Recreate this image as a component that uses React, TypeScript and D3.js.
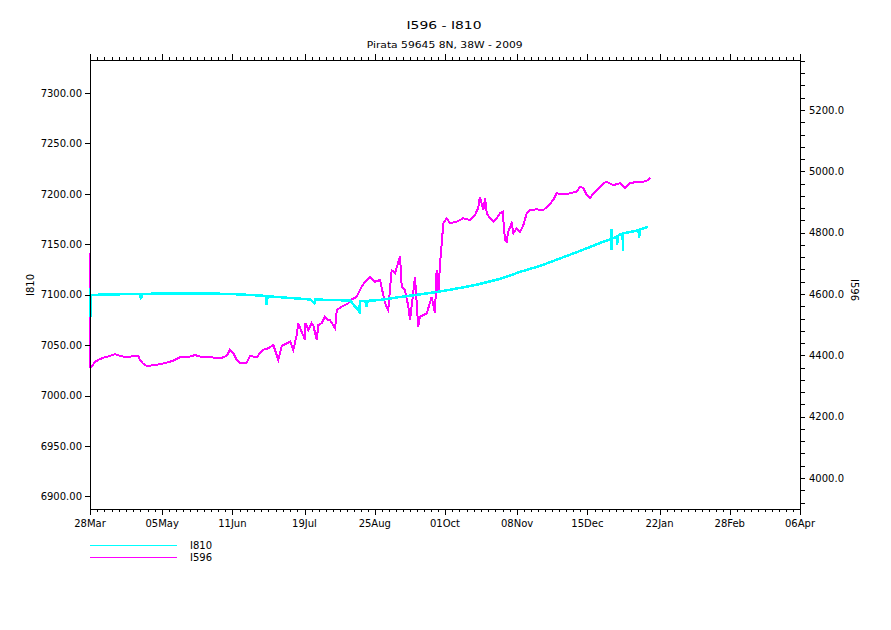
import React from 'react';
import * as d3 from 'd3';

// ---- axis definitions ----
const startDate = '2009-03-28';
const endDate = '2010-04-06';
const xTickDates = ['2009-03-28','2009-05-05','2009-06-11','2009-07-19','2009-08-25','2009-10-01','2009-11-08','2009-12-15','2010-01-22','2010-02-28','2010-04-06'];
const xTickLabels = ['28Mar','05May','11Jun','19Jul','25Aug','01Oct','08Nov','15Dec','22Jan','28Feb','06Apr'];
const leftDomain = [6887.6, 7332.7];
const leftTicks = [6900, 6950, 7000, 7050, 7100, 7150, 7200, 7250, 7300];
const rightDomain = [3899, 5363];
const rightTicks = [4000, 4200, 4400, 4600, 4800, 5000, 5200];
const rightMinorStep = 40;

const title = 'I596 - I810';
const subtitle = 'Pirata 59645 8N, 38W - 2009';
const leftLabel = 'I810';
const rightLabel = 'I596';
const legendNames = ['I810', 'I596'];
const seriesColors = ['#00ffff', '#ff00ff'];

// ---- series: [days since 28Mar2009, value] ----
const i810Series: [number, number][] = [
  [0, 7106.7], [0.15, 7078], [0.5, 7099.8], [10.5, 7100.3], [26.3, 7100.8], [26.9, 7095.5], [27.4, 7100.8],
  [42.1, 7101.3], [57.9, 7101.3], [73.7, 7100.8], [84.3, 7099.8], [92.7, 7098.8], [93.1, 7089.9], [93.5, 7098.6],
  [94.8, 7098.3], [105.4, 7096.8], [115.9, 7095.3], [118.2, 7091.9], [118.5, 7095.3], [126.4, 7094.8],
  [137.0, 7094.3], [141.9, 7083.2], [142.2, 7093.9], [144.9, 7093.9], [145.8, 7088.2], [146.2, 7093.9],
  [152.8, 7094.8], [163.3, 7097.8], [173.8, 7100.3], [184.4, 7103.3], [194.9, 7106.7], [205.4, 7110.7],
  [216.0, 7115.7], [226.5, 7122.6], [237.0, 7128.5], [247.6, 7136], [258.1, 7143.4], [268.7, 7151.3],
  [274.4, 7155.3], [274.6, 7144.4], [274.8, 7165.2], [275.0, 7155.5], [277.5, 7157.5], [277.7, 7149.4],
  [277.9, 7157.8], [279.2, 7159.8], [280.6, 7160.5], [280.7, 7143.4], [280.9, 7160.8], [289.0, 7164],
  [289.2, 7156.3], [289.7, 7164.7], [293.9, 7167.2]
];

const i596Series: [number, number][] = [
  [0, 4734], [0.2, 4362], [0.9, 4363], [2.6, 4379], [5.3, 4388], [7.9, 4394], [10.5, 4398], [13.2, 4404],
  [14.9, 4400], [17.5, 4396], [21.1, 4396], [25.4, 4398], [26.3, 4385], [28.1, 4372], [29.9, 4365],
  [35.1, 4369], [40.4, 4376], [43.9, 4383], [47.4, 4394], [52.7, 4396], [55.3, 4401], [57.9, 4396],
  [63.2, 4394], [68.5, 4390], [72.0, 4398], [73.7, 4418], [75.5, 4407], [77.3, 4385], [79.0, 4374],
  [82.5, 4376], [84.3, 4398], [87.8, 4394], [89.5, 4407], [91.3, 4418], [93.9, 4423], [96.6, 4434],
  [99.2, 4385], [101.0, 4431], [103.6, 4439], [105.4, 4445], [107.1, 4418], [108.9, 4466], [109.7, 4505],
  [111.5, 4477], [113.3, 4450], [113.5, 4505], [115.0, 4483], [116.8, 4505], [117.6, 4499], [119.4, 4450],
  [120.3, 4499], [122.1, 4505], [123.8, 4526], [125.5, 4515], [126.4, 4515], [129.1, 4488], [130.0, 4548],
  [132.6, 4559], [136.1, 4570], [137.0, 4580], [140.5, 4591], [143.1, 4624], [144.9, 4640], [147.5, 4656],
  [150.1, 4640], [152.8, 4646], [155.4, 4570], [157.1, 4548], [158.9, 4678], [160.7, 4668], [163.3, 4722],
  [164.2, 4624], [165.9, 4613], [167.7, 4559], [168.6, 4515], [171.2, 4656], [172.9, 4493], [173.8, 4526],
  [177.4, 4537], [180.0, 4591], [181.7, 4537], [182.6, 4678], [183.5, 4602], [184.4, 4700], [185.3, 4765],
  [186.1, 4831], [187.9, 4847], [189.6, 4831], [193.2, 4836], [196.6, 4847], [200.2, 4841], [202.8, 4858],
  [204.5, 4880], [205.4, 4917], [207.2, 4874], [208.1, 4912], [209.0, 4863], [210.7, 4847], [212.4, 4836],
  [214.2, 4847], [216.0, 4863], [217.4, 4868], [218.6, 4776], [219.5, 4771], [220.3, 4803], [222.1, 4831],
  [223.0, 4798], [224.8, 4814], [226.5, 4803], [228.3, 4825], [230.0, 4863], [231.8, 4874], [235.3, 4876],
  [238.8, 4874], [240.6, 4883], [242.3, 4894], [244.1, 4907], [245.8, 4928], [249.3, 4926], [252.8, 4928],
  [256.4, 4934], [258.1, 4950], [259.9, 4945], [261.6, 4923], [263.4, 4912], [265.1, 4928], [266.9, 4939],
  [270.4, 4961], [272.2, 4966], [275.6, 4955], [279.2, 4961], [281.8, 4945], [284.5, 4961], [288.0, 4966],
  [291.5, 4966], [294.1, 4972], [295.0, 4980]
];

const FONT = '"DejaVu Sans", Verdana, sans-serif';

export default function App() {
  const W = 891, H = 630;
  const L = 90, R = 800, T = 60, B = 509;
  const parse = d3.utcParse('%Y-%m-%d');
  const t0 = parse(startDate) as Date;
  const x = d3.scaleUtc().domain([t0, parse(endDate) as Date]).range([L, R]);
  const yL = d3.scaleLinear().domain(leftDomain).range([B, T]);
  const yR = d3.scaleLinear().domain(rightDomain).range([B, T]);
  const dayToDate = (d: number) => new Date(t0.getTime() + d * 86400000);

  const line810 = d3.line<[number, number]>().x(p => x(dayToDate(p[0]))).y(p => yL(p[1]));
  const line596 = d3.line<[number, number]>().x(p => x(dayToDate(p[0]))).y(p => yR(p[1]));

  const majorX = xTickDates.map(s => x(parse(s) as Date));
  const minorX: number[] = [];
  for (let i = 0; i < majorX.length - 1; i++) {
    for (let k = 1; k < 10; k++) minorX.push(majorX[i] + (majorX[i + 1] - majorX[i]) * k / 10);
  }
  const rightMinor = d3.range(Math.ceil(rightDomain[0] / rightMinorStep) * rightMinorStep, rightDomain[1], rightMinorStep);

  const px = (v: number) => Math.round(v) + 0.5;

  return (
    <svg width={W} height={H} style={{ position: 'absolute', left: 0, top: 0, background: '#fff' }} fontFamily={FONT}>
      <rect x={0} y={0} width={W} height={H} fill="#fff" />
      {/* titles */}
      <text x={444} y={29} fontSize={10.5} textAnchor="middle" textLength={75} lengthAdjust="spacingAndGlyphs">{title}</text>
      <text x={444.7} y={48.3} fontSize={9.5} textAnchor="middle" textLength={156} lengthAdjust="spacingAndGlyphs">{subtitle}</text>

      {/* data */}
      <g shapeRendering="crispEdges" fill="none">
        <path d={line596(i596Series) || ''} stroke={seriesColors[1]} strokeWidth={2} />
        <path d={line810(i810Series) || ''} stroke={seriesColors[0]} strokeWidth={2.5} />
      </g>

      {/* frame and ticks */}
      <g stroke="#000" strokeWidth={1} shapeRendering="crispEdges">
        <rect x={L + 0.5} y={T + 0.5} width={R - L} height={B - T} fill="none" />
        {majorX.map((v, i) => <line key={'bM' + i} x1={px(v)} x2={px(v)} y1={B} y2={B + 6} />)}
        {minorX.map((v, i) => <line key={'bm' + i} x1={px(v)} x2={px(v)} y1={B} y2={B + 3} />)}
        {majorX.map((v, i) => <line key={'tM' + i} x1={px(v)} x2={px(v)} y1={T} y2={T - 6} />)}
        {minorX.map((v, i) => <line key={'tm' + i} x1={px(v)} x2={px(v)} y1={T} y2={T - 3} />)}
        {leftTicks.map((v, i) => <line key={'l' + i} x1={L - 5} x2={L} y1={px(yL(v))} y2={px(yL(v))} />)}
        {rightMinor.map((v, i) => <line key={'r' + i} x1={R} x2={R + 5} y1={px(yR(v))} y2={px(yR(v))} />)}
      </g>

      {/* tick labels */}
      <g fontSize={10} fill="#000">
        {xTickLabels.map((s, i) => <text key={'xl' + i} x={majorX[i]} y={527} textAnchor="middle">{s}</text>)}
        {leftTicks.map((v, i) => <text key={'yl' + i} x={82} y={yL(v) + 3.7} textAnchor="end">{d3.format('.2f')(v)}</text>)}
        {rightTicks.map((v, i) => <text key={'yr' + i} x={809} y={yR(v) + 3.7} textAnchor="start">{d3.format('.1f')(v)}</text>)}
      </g>

      {/* axis titles */}
      <text transform="translate(34,285) rotate(-90)" fontSize={10} textAnchor="middle">{leftLabel}</text>
      <text transform="translate(851,290) rotate(90)" fontSize={10} textAnchor="middle">{rightLabel}</text>

      {/* legend */}
      {legendNames.map((n, i) => (
        <g key={'lg' + i}>
          <line x1={90} x2={177} y1={545.5 + i * 12} y2={545.5 + i * 12} stroke={seriesColors[i]} strokeWidth={1} shapeRendering="crispEdges" />
          <text x={190} y={548.5 + i * 12} fontSize={10}>{n}</text>
        </g>
      ))}
    </svg>
  );
}
